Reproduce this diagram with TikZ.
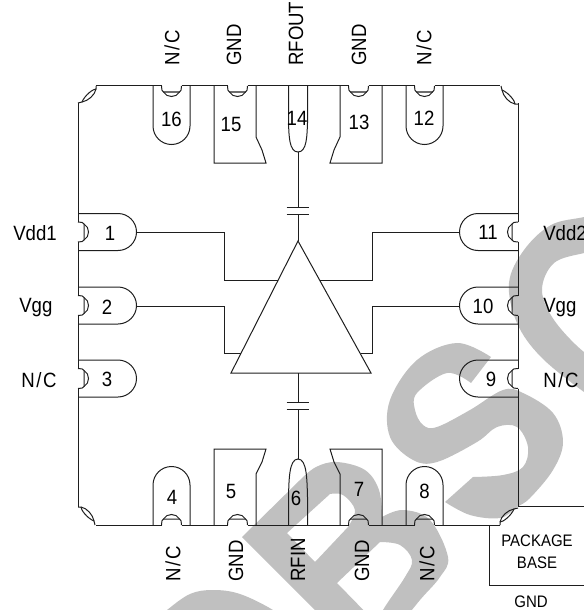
\documentclass[tikz,border=0pt]{standalone}
\usepackage{fontspec}
\setmainfont[FakeStretch=0.9]{Liberation Sans}
\usetikzlibrary{positioning}
\definecolor{markgray}{RGB}{192, 192, 192}
\definecolor{wirecol}{RGB}{30, 30, 30}
\tikzset{
  pinlabel/.style={inner sep=0pt, font=\fontsize{15.5}{18}\selectfont},
  nclabel/.style={inner sep=0pt, font=\fontsize{15.5}{18}\selectfont\addfontfeature{LetterSpace=8}},
  pinnum/.style={inner sep=0pt, font=\fontsize{15.5}{18}\selectfont},
  baselabel/.style={inner sep=0pt, font=\fontsize{12.5}{15}\selectfont},
  wire/.style={draw=wirecol, line width=0.75pt},
  notch/.pic={
    \draw[wire] (-10,0) .. controls (-10,3) and (-9.5,6) .. (-8,6) -- (8,6) .. controls (9.5,6) and (10,3) .. (10,0);
    \draw[wire] (-8,6) .. controls (-5,12) and (5,12) .. (8,6);
  },
  roundpad/.pic={
    \draw[wire] (-18.5,0) -- (-18.5,40) .. controls (-18.5,50.2) and (-10.2,58.5) .. (0,58.5)
      .. controls (10.2,58.5) and (18.5,50.2) .. (18.5,40) -- (18.5,0);
  },
  cutcorner/.pic={
    \draw[wire] (18,0) -- (18,3) .. controls (15,3) and (7,9) .. (4,16) -- (0,17);
    \draw[wire] (18,3) .. controls (17,9) and (10,15) .. (4,16);
  },
}

\begin{document}
\begin{tikzpicture}[x=0.75pt, y=-0.75pt]
  \useasboundingbox (0,0) rectangle (584,610);

  % watermark letters
  \begin{scope}
    \clip (0,0) rectangle (584,610);
    \fill[markgray] plot[smooth, tension=0.6] coordinates {(150,625) (167,610) (190,594) (213,590) (240,594) (273,610) (290,625)} -- cycle;
    \fill[markgray, even odd rule]
      (242,537) -- plot[smooth, tension=0.6] coordinates {(300,480) (316,467) (337,462) (365,470) (379,490) (382,517)}
      -- plot[smooth, tension=0.6] coordinates {(382,517) (403,510) (430,520) (448,557) (440,577) (420,600) (400,625)} -- (330,625) -- cycle
      (287,533) -- plot[smooth, tension=0.6] coordinates {(330,494) (343,495) (355,510) (348,527)} -- (315,562) -- cycle
      (337,583) -- plot[smooth, tension=0.6] coordinates {(380,542) (400,545) (412,560) (405,577) (383,610) (378,625)} -- cycle;
    \fill[markgray] plot[smooth, tension=0.6] coordinates {(491,357) (457,343) (417,360) (390,400) (390,437) (413,460) (437,462) (477,442) (497,427) (517,427) (528,447) (523,467) (503,475) (473,477)}
      -- plot[smooth, tension=0.6] coordinates {(445,502) (470,515) (500,518) (517,507) (530,498) (553,470) (563,442) (553,413) (523,393) (503,390) (470,410) (437,427) (423,425) (415,410) (417,393) (447,373) (471,383)} -- cycle;
    \fill[markgray] plot[smooth, tension=0.6] coordinates {(600,212) (584,217) (551,225) (524,250) (509,283) (517,323) (541,357) (584,392) (600,400)}
      -- plot[smooth, tension=0.6] coordinates {(600,355) (584,352) (554,320) (542,290) (554,263) (584,253) (600,250)} -- cycle;
  \end{scope}

  % package outline
  \coordinate (tl) at (78,86);
  \coordinate (tr) at (518,86);
  \coordinate (bl) at (78,525);
  \coordinate (br) at (518,525);
  \pic at (tl) {cutcorner};
  \pic[rotate=90] at (bl) {cutcorner};
  \pic[rotate=180] at (br) {cutcorner};
  \pic[rotate=-90] at (tr) {cutcorner};

  \foreach \xa/\xb in {96/161.5, 181.5/227.5, 247.5/348.5, 368.5/414.5, 434.5/500} {
    \draw[wire] (\xa,86) -- (\xb,86);
    \draw[wire] (\xa,525) -- (\xb,525);
  }
  \foreach \ya/\yb in {103/222, 242/295.5, 315.5/368.5, 388.5/507} {
    \draw[wire] (78,\ya) -- (78,\yb);
    \draw[wire] (518,\ya) -- (518,\yb);
  }
  \foreach \px in {171.5, 237.5, 358.5, 424.5} {
    \pic at (\px,86) {notch};
    \pic[rotate=180] at (\px,525) {notch};
  }
  \foreach \py in {232, 305.5, 378.5} {
    \pic[rotate=90] at (78,\py) {notch};
    \pic[rotate=-90] at (518,\py) {notch};
    \pic[rotate=90] at (78,\py) {roundpad};
    \pic[rotate=-90] at (518,\py) {roundpad};
  }
  \foreach \px in {171.5, 424.5} {
    \pic at (\px,86) {roundpad};
    \pic[rotate=180] at (\px,525) {roundpad};
  }

  % square pads
  \draw[wire] (214,86) -- (214,163) -- (266,163) -- (262,150) -- (256,137) -- (256,86);
  \draw[wire] (382,86) -- (382,163) -- (330,163) -- (334,150) -- (340,137) -- (340,86);
  \draw[wire] (214,525) -- (214,449) -- (266,449) -- (262,462) -- (256,474) -- (256,525);
  \draw[wire] (382,525) -- (382,449) -- (330,449) -- (334,462) -- (340,474) -- (340,525);

  % RF pads
  \coordinate (rfout) at (298,152);
  \coordinate (rfin) at (298,459);
  \draw[wire] (288.5,86) -- (288.5,123) .. controls (289,135) and (289,152) .. (rfout) .. controls (307,152) and (307,135) .. (307.5,123) -- (307.5,86);
  \draw[wire] (288.5,525) -- (288.5,497) .. controls (289,480) and (289,459) .. (rfin) .. controls (307,459) and (307,480) .. (307.5,497) -- (307.5,525);

  % amplifier
  \coordinate (ampTop) at (298,241);
  \coordinate (ampLeft) at (231,373);
  \coordinate (ampRight) at (371,373);
  \coordinate (ampBot) at (298,373);
  \draw[wire] (ampTop) -- (ampLeft) -- (ampRight) -- cycle;

  \coordinate (capA1) at (298,207);
  \coordinate (capA2) at (298,214);
  \coordinate (capB1) at (298,402);
  \coordinate (capB2) at (298,409);
  \draw[wire] (rfout) -- (capA1);
  \draw[wire] (capA2) -- (ampTop);
  \draw[wire] (ampBot) -- (capB1);
  \draw[wire] (capB2) -- (rfin);
  \foreach \c in {capA1, capA2, capB1, capB2} {
    \draw[wire] ([xshift=-8.5pt]\c) -- ([xshift=8.5pt]\c);
  }

  % bias wires
  \coordinate (pad1) at (137,232.5);
  \coordinate (pad2) at (137,306);
  \coordinate (pad11) at (459,232.5);
  \coordinate (pad10) at (459,306);
  \coordinate (ampA) at (278,280);
  \coordinate (ampB) at (241,353.5);
  \coordinate (ampC) at (319.5,280);
  \coordinate (ampD) at (360.5,353.5);
  \draw[wire] (pad1) -- ++(87,0) |- (ampA);
  \draw[wire] (pad2) -- ++(87,0) |- (ampB);
  \draw[wire] (pad11) -- ++(-87,0) |- (ampC);
  \draw[wire] (pad10) -- ++(-87,0) |- (ampD);

  % package base
  \coordinate (baseA) at (489,525);
  \coordinate (baseB) at (584,585);
  \draw[wire] (518,506) -- (584,506);
  \draw[wire] (baseA) |- (baseB);
  \node[baselabel] (pkg) at (537,541) {PACKAGE};
  \node[baselabel, below=7pt of pkg] (base) {BASE};
  \node[baselabel] (gndbase) at (531,602) {GND};

  % pin numbers
  \foreach \num/\nx/\ny in {1/110/233, 2/107/307, 3/107/379, 4/172/497, 5/231/491, 6/296/498, 7/359/489, 8/424.5/491,
      9/491/379, 10/483/306, 11/488/232, 12/424/118, 13/359/122, 14/297/118, 15/231/124, 16/171.5/119} {
    \node[pinnum] (num\num) at (\nx,\ny) {\num};
  }

  % pin names
  \node[nclabel, rotate=90, anchor=west] (top1) at (172,66) {N/C};
  \node[pinlabel, rotate=90, anchor=west] (top2) at (234,66) {GND};
  \node[pinlabel, rotate=90, anchor=west] (top3) at (296,66) {RFOUT};
  \node[pinlabel, rotate=90, anchor=west] (top4) at (359,66) {GND};
  \node[nclabel, rotate=90, anchor=west] (top5) at (424,66) {N/C};
  \node[nclabel, rotate=90, anchor=west] (bot1) at (173,582) {N/C};
  \node[pinlabel, rotate=90, anchor=west] (bot2) at (236,582) {GND};
  \node[pinlabel, rotate=90, anchor=west] (bot3) at (298,582) {RFIN};
  \node[pinlabel, rotate=90, anchor=west] (bot4) at (362,582) {GND};
  \node[nclabel, rotate=90, anchor=west] (bot5) at (427,582) {N/C};
  \node[pinlabel, anchor=base west] (left1) at (13,240) {Vdd1};
  \node[pinlabel, anchor=base west] (left2) at (19,312) {Vgg};
  \node[nclabel, anchor=base west] (left3) at (21,387) {N/C};
  \node[pinlabel, anchor=base west] (right1) at (543,240) {Vdd2};
  \node[pinlabel, anchor=base west] (right2) at (543,312) {Vgg};
  \node[nclabel, anchor=base west] (right3) at (543,387) {N/C};
\end{tikzpicture}
\end{document}
